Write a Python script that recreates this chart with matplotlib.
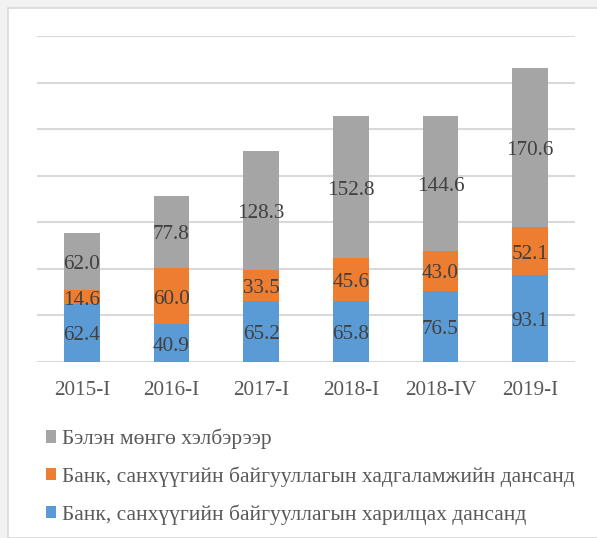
import matplotlib
matplotlib.use("Agg")
import matplotlib.pyplot as plt
from matplotlib.patches import Rectangle, Patch
import numpy as np

categories = ["2015-I", "2016-I", "2017-I", "2018-I", "2018-IV", "2019-I"]
current = [62.4, 40.9, 65.2, 65.8, 76.5, 93.1]
savings = [14.6, 60.0, 33.5, 45.6, 43.0, 52.1]
cash = [62.0, 77.8, 128.3, 152.8, 144.6, 170.6]
labels = ["Банк, санхүүгийн байгууллагын харилцах дансанд",
          "Банк, санхүүгийн байгууллагын хадгаламжийн дансанд",
          "Бэлэн мөнгө хэлбэрээр"]
colors = ["#5B9BD5", "#ED7D31", "#A5A5A5"]

W, H = 597, 538
fig = plt.figure(figsize=(W/100, H/100), dpi=100)
fig.patch.set_facecolor("#F2F2F2")
fig.patches.append(Rectangle((7.5/W, 0), 1, 1 - 7.5/H, transform=fig.transFigure,
                             facecolor="white", edgecolor="#D9D9D9", linewidth=1.2, zorder=-5))

plt.rcParams['font.family'] = ['Liberation Serif', 'DejaVu Serif']
fs = 15.2
lfs = 15.45

ax = fig.add_axes([37/W, 1 - 362/H, (575-37)/W, (362-36)/H])
ax.set_zorder(2)
ax.set_facecolor("none")
x = np.arange(len(categories))
bottom = np.zeros(len(categories))
for vals, c in zip([current, savings, cash], colors):
    vals = np.array(vals)
    ax.bar(x, vals, 0.4, bottom=bottom, color=c, zorder=3)
    for xi, b, v in zip(x, bottom, vals):
        ax.annotate(f"{v:.1f}", (xi, b + v/2), xytext=(0, -2.2), textcoords="offset points",
                    ha="center", va="center", fontsize=fs, color="#404040", zorder=4)
    bottom = bottom + vals

ax.set_xlim(-0.5, len(categories) - 0.5)
ax.set_ylim(0, 350)
ax.set_yticks(np.arange(0, 351, 50))
ax.yaxis.grid(True, color="#D9D9D9", linewidth=1.5, zorder=0)
ax.set_axisbelow(True)
ax.tick_params(axis="y", left=False, labelleft=False)
ax.tick_params(axis="x", length=0, pad=14, labelsize=fs, labelcolor="#595959")
ax.set_xticks(x)
ax.set_xticklabels(categories)
for s in ax.spines.values():
    s.set_visible(False)

handles = [Patch(facecolor=c) for c in colors][::-1]
leg = fig.legend(handles, labels[::-1], loc="upper left",
                 bbox_to_anchor=(35/W, 1 - 418/H), frameon=False,
                 fontsize=lfs, labelcolor="#595959",
                 handlelength=0.5, handleheight=0.5, handletextpad=0.25,
                 labelspacing=0.8, borderpad=0)
leg.set_zorder(3)
fig.savefig("out.png", dpi=100, facecolor=fig.get_facecolor())
